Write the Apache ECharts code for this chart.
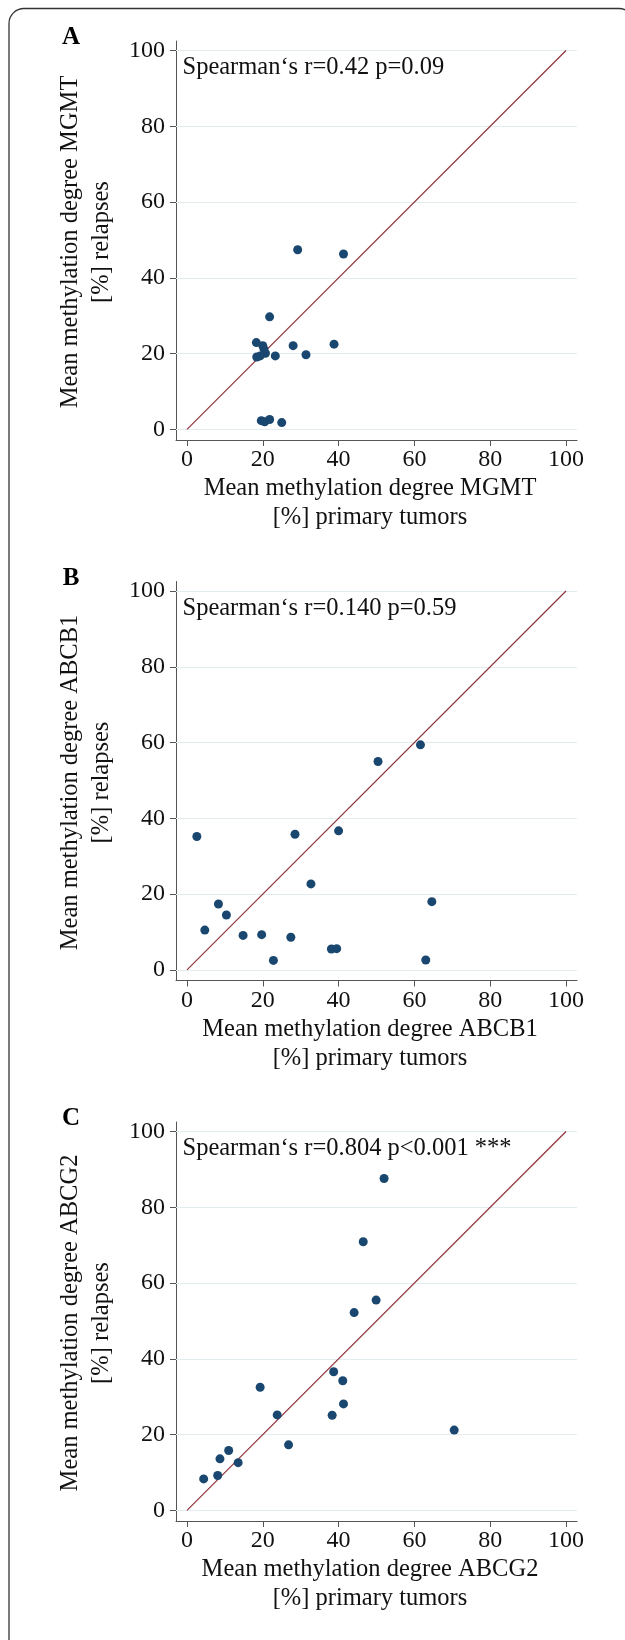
<!DOCTYPE html>
<html>
<head>
<meta charset="utf-8">
<script src="https://cdn.jsdelivr.net/npm/echarts@6/dist/echarts.min.js"></script>
<style>
html,body{margin:0;padding:0;background:#fff;}
#chart{width:625px;height:1640px;}
</style>
</head>
<body>
<div id="chart"></div>
<script>
// ---- data ----
const tickValues = [0, 20, 40, 60, 80, 100];
const diagonal = [0, 100];
const panelLabels = ['A', 'B', 'C'];
const genes = ['MGMT', 'ABCB1', 'ABCG2'];
const statTexts = [
  'Spearman\u2018s r=0.42 p=0.09',
  'Spearman\u2018s r=0.140 p=0.59',
  'Spearman\u2018s r=0.804 p<0.001 ***'
];
const mgmtPrimary = [29.2, 41.3, 21.8, 18.3, 20.0, 20.3, 20.7, 18.4, 19.3, 23.3, 28.0, 31.4, 38.8, 19.6, 20.5, 21.8, 25.0];
const mgmtRelapse = [47.4, 46.3, 29.7, 22.9, 22.1, 21.2, 20.1, 19.1, 19.4, 19.4, 22.1, 19.7, 22.5, 2.3, 2.0, 2.6, 1.8];
const abcb1Primary = [2.6, 4.7, 8.3, 10.4, 14.8, 19.7, 22.8, 27.4, 28.5, 32.7, 38.1, 39.5, 40.0, 50.4, 61.6, 63.0, 64.6];
const abcb1Relapse = [35.2, 10.5, 17.4, 14.5, 9.1, 9.3, 2.5, 8.6, 35.8, 22.7, 5.5, 5.6, 36.7, 55.0, 59.4, 2.6, 18.0];
const abcg2Primary = [52.0, 46.5, 49.9, 44.1, 38.7, 41.1, 41.3, 38.3, 19.3, 23.8, 26.8, 70.5, 11.0, 8.7, 13.5, 8.1, 4.4];
const abcg2Relapse = [87.6, 70.9, 55.5, 52.2, 36.6, 34.2, 28.1, 25.1, 32.5, 25.2, 17.3, 21.2, 15.8, 13.6, 12.6, 9.2, 8.3];

const primaries = [mgmtPrimary, abcb1Primary, abcg2Primary];
const relapses = [mgmtRelapse, abcb1Relapse, abcg2Relapse];

// ---- layout / style ----
const FONT = '"Liberation Serif", "Times New Roman", serif';
const PANEL_STEP = 540.5;
const GRID_LEFT = 176, GRID_TOP = 41, GRID_W = 401, GRID_H = 399;
const MARKER = '#1a476f', DIAG = '#90353b', GRIDC = '#e3edf0', AXISC = '#555555';

const grids = [], xAxes = [], yAxes = [], series = [], graphics = [];

graphics.push({
  type: 'rect', silent: true,
  shape: {x: 9, y: 8.5, width: 625, height: 1700, r: 15},
  style: {fill: 'none', stroke: '#333', lineWidth: 1.3}
});

for (let i = 0; i < 3; i++) {
  const off = PANEL_STEP * i;
  grids.push({left: GRID_LEFT, top: GRID_TOP + off, width: GRID_W, height: GRID_H, containLabel: false});
  xAxes.push({
    type: 'value', gridIndex: i, min: -2.9, max: 102.9,
    axisLine: {show: true, onZero: false, lineStyle: {color: AXISC, width: 1}},
    axisTick: {show: true, inside: false, length: 6, customValues: tickValues, lineStyle: {color: AXISC}},
    axisLabel: {customValues: tickValues, fontFamily: FONT, fontSize: 24, color: '#111', margin: 8},
    splitLine: {show: false}
  });
  yAxes.push({
    type: 'value', gridIndex: i, min: -2.8, max: 102.5,
    axisLine: {show: true, onZero: false, lineStyle: {color: AXISC, width: 1}},
    axisTick: {show: true, inside: false, length: 6, customValues: tickValues, lineStyle: {color: AXISC}},
    axisLabel: {customValues: tickValues, fontFamily: FONT, fontSize: 24, color: '#111', margin: 11},
    splitLine: {show: false}
  });
  series.push({
    type: 'line', xAxisIndex: i, yAxisIndex: i, z: 2,
    data: [[diagonal[0], diagonal[0]], [diagonal[1], diagonal[1]]],
    symbol: 'none', silent: true, animation: false,
    lineStyle: {color: DIAG, width: 1.2},
    markLine: {
      silent: true, symbol: 'none', animation: false, z: 1,
      label: {show: false},
      lineStyle: {color: GRIDC, type: 'solid', width: 1.2},
      data: tickValues.map(v => ({yAxis: v}))
    }
  });
  series.push({
    type: 'scatter', xAxisIndex: i, yAxisIndex: i, z: 3,
    symbolSize: 9, animation: false,
    itemStyle: {color: MARKER, opacity: 1},
    data: primaries[i].map((x, k) => [x, relapses[i][k]])
  });

  graphics.push({
    type: 'text', silent: true, x: 71, y: 38 + off,
    style: {text: panelLabels[i], font: 'bold 25px ' + FONT, fill: '#000', align: 'center', verticalAlign: 'middle'}
  });
  graphics.push({
    type: 'text', silent: true, x: 182.5, y: 68 + off,
    style: {text: statTexts[i], font: '24.5px ' + FONT, fill: '#111', align: 'left', verticalAlign: 'middle'}
  });
  graphics.push({
    type: 'text', silent: true, x: 86, y: 242 + off, rotation: Math.PI / 2,
    style: {text: 'Mean methylation degree ' + genes[i] + '\n[%] relapses', font: '24.5px ' + FONT,
      fill: '#111', align: 'center', verticalAlign: 'middle', lineHeight: 31}
  });
  graphics.push({
    type: 'text', silent: true, x: 370, y: 503.5 + off,
    style: {text: 'Mean methylation degree ' + genes[i] + '\n[%] primary tumors', font: '24.5px ' + FONT,
      fill: '#111', align: 'center', verticalAlign: 'middle', lineHeight: 29}
  });
}

const chart = echarts.init(document.getElementById('chart'), null, {renderer: 'canvas', width: 625, height: 1640});
chart.setOption({
  backgroundColor: '#ffffff',
  animation: false,
  grid: grids,
  xAxis: xAxes,
  yAxis: yAxes,
  series: series,
  graphic: graphics
});
</script>
</body>
</html>
